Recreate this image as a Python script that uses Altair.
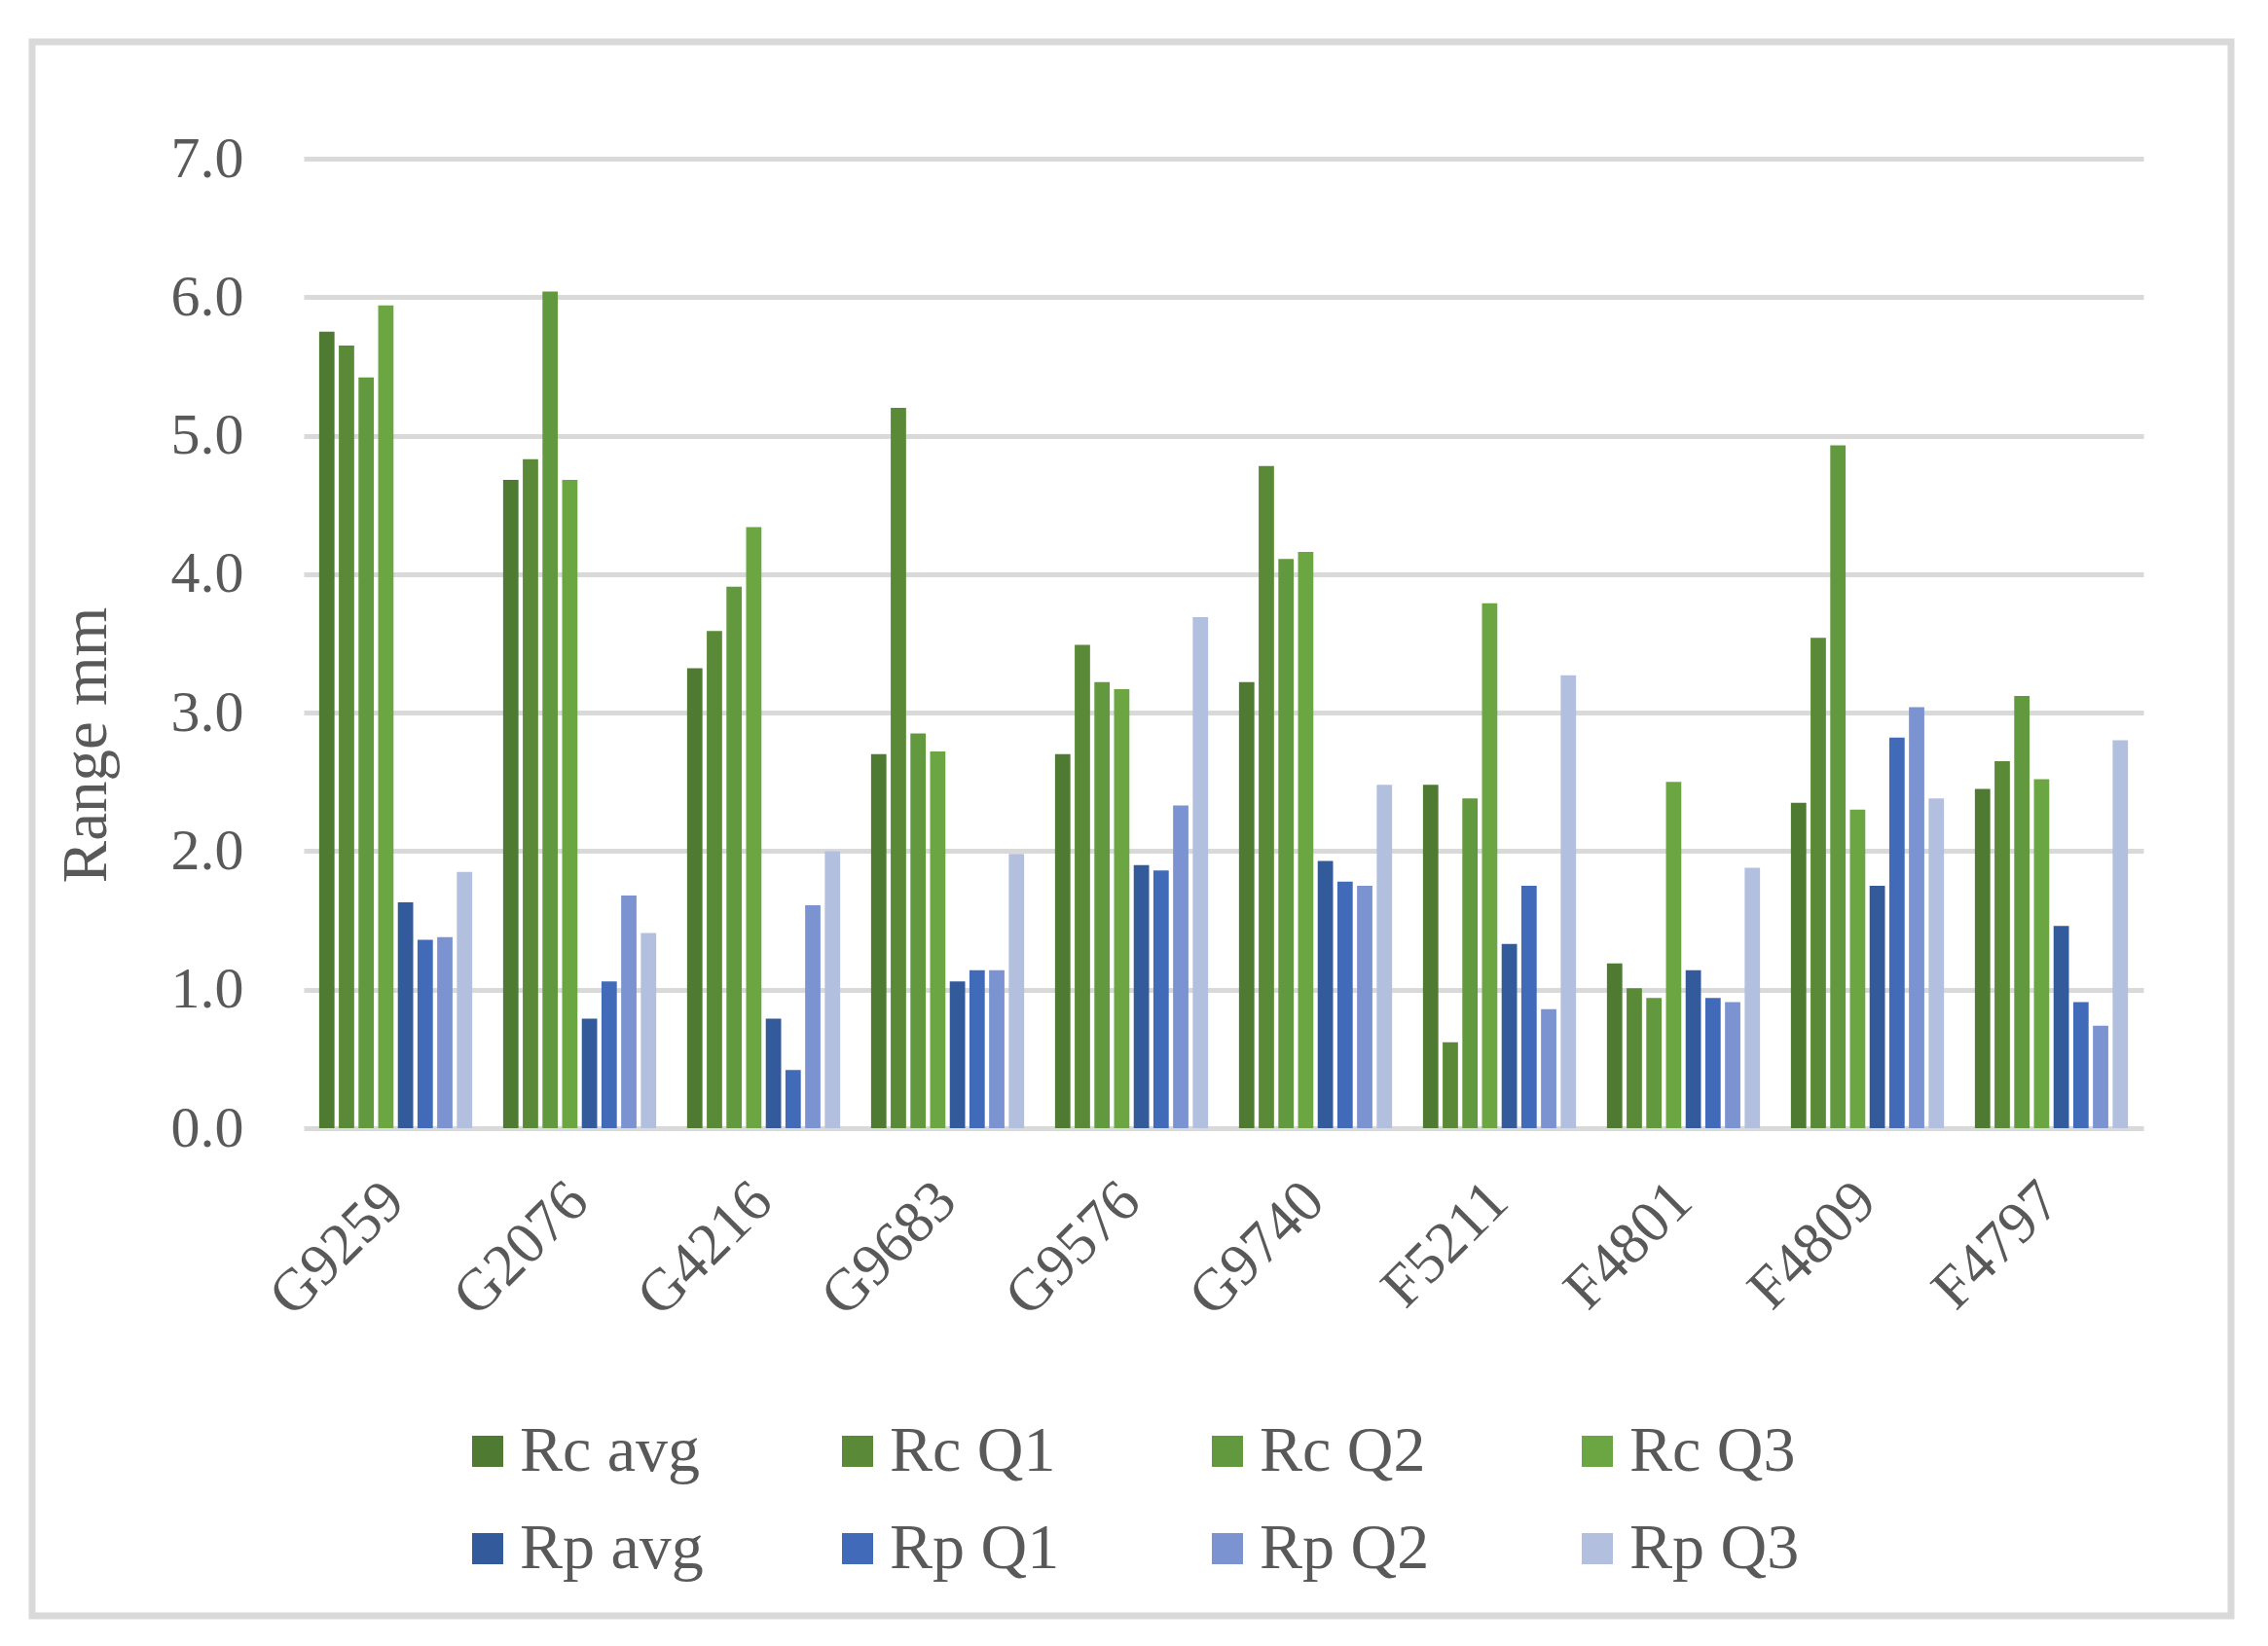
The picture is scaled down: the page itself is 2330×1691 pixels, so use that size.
import altair as alt
import pandas as pd

categories = ["G9259", "G2076", "G4216", "G9683", "G9576", "G9740", "F5211", "F4801", "F4809", "F4797"]
series = ["Rc avg", "Rc Q1", "Rc Q2", "Rc Q3", "Rp avg", "Rp Q1", "Rp Q2", "Rp Q3"]
colors = ["#4E7A31", "#5A8A37", "#63993E", "#6CA643", "#335A9A", "#416BB8", "#7B93D0", "#B3BFDF"]

rc_avg = [5.75, 4.68, 3.32, 2.70, 2.70, 3.22, 2.48, 1.19, 2.35, 2.45]
rc_q1 = [5.65, 4.83, 3.59, 5.20, 3.49, 4.78, 0.62, 1.01, 3.54, 2.65]
rc_q2 = [5.42, 6.04, 3.91, 2.85, 3.22, 4.11, 2.38, 0.94, 4.93, 3.12]
rc_q3 = [5.94, 4.68, 4.34, 2.72, 3.17, 4.16, 3.79, 2.50, 2.30, 2.52]
rp_avg = [1.63, 0.79, 0.79, 1.06, 1.90, 1.93, 1.33, 1.14, 1.75, 1.46]
rp_q1 = [1.36, 1.06, 0.42, 1.14, 1.86, 1.78, 1.75, 0.94, 2.82, 0.91]
rp_q2 = [1.38, 1.68, 1.61, 1.14, 2.33, 1.75, 0.86, 0.91, 3.04, 0.74]
rp_q3 = [1.85, 1.41, 2.00, 1.98, 3.69, 2.48, 3.27, 1.88, 2.38, 2.80]

y_ticks = [0, 1, 2, 3, 4, 5, 6, 7]

values_by_series = [rc_avg, rc_q1, rc_q2, rc_q3, rp_avg, rp_q1, rp_q2, rp_q3]
rows = []
for s, vals in zip(series, values_by_series):
    for c, v in zip(categories, vals):
        rows.append({"category": c, "series": s, "value": v})
df = pd.DataFrame(rows)

FONT = "Liberation Serif"
GRID = "#D9D9D9"
TEXT = "#595959"

bars = alt.Chart(df).mark_bar().encode(
    x=alt.X(
        "category:N",
        sort=categories,
        scale=alt.Scale(paddingInner=0.168, paddingOuter=0.084),
        axis=alt.Axis(
            title=None, domain=False, ticks=False, grid=False,
            labelAngle=-45, labelAlign="right", labelBaseline="top",
            labelPadding=44, labelOffset=-22,
            labelFont=FONT, labelFontSize=61, labelColor=TEXT,
        ),
    ),
    xOffset=alt.XOffset("series:N", sort=series, scale=alt.Scale(paddingInner=0.22)),
    y=alt.Y(
        "value:Q",
        scale=alt.Scale(domain=[0, 7], nice=False),
        axis=alt.Axis(
            title="Range mm", values=y_ticks, format=".1f",
            domain=False, ticks=False, grid=True, gridColor=GRID, gridWidth=5,
            labelFont=FONT, labelFontSize=60, labelColor=TEXT, labelPadding=62,
            titleFont=FONT, titleFontSize=65, titleFontWeight="normal", titleColor=TEXT,
            titleX=-224, titleY=602, titleAngle=270, titleAlign="center", titleBaseline="middle",
        ),
    ),
    color=alt.Color(
        "series:N",
        sort=series,
        scale=alt.Scale(domain=series, range=colors),
        legend=alt.Legend(
            title=None, orient="none", legendX=156, legendY=1295,
            direction="horizontal", columns=4, gridAlign="all",
            columnPadding=125, rowPadding=34,
            symbolType="square", symbolSize=1024, symbolStrokeWidth=0,
            labelFont=FONT, labelFontSize=66, labelColor=TEXT, labelOffset=0,
            labelLimit=500,
        ),
    ),
)

frame = alt.Chart(pd.DataFrame({"a": [0]})).mark_rect(
    filled=False, stroke=GRID, strokeWidth=7
).encode(
    x=alt.value(-279), x2=alt.value(1980), y=alt.value(-120), y2=alt.value(1497)
)

chart = alt.layer(frame, bars).properties(
    width=1890, height=996,
    autosize=alt.AutoSizeParams(type="none"),
    padding={"left": 304, "top": 155, "right": 110, "bottom": 520},
    background="white",
).configure_view(stroke=None)

chart.save("out.html", embed_options={"renderer": "svg", "actions": False})
